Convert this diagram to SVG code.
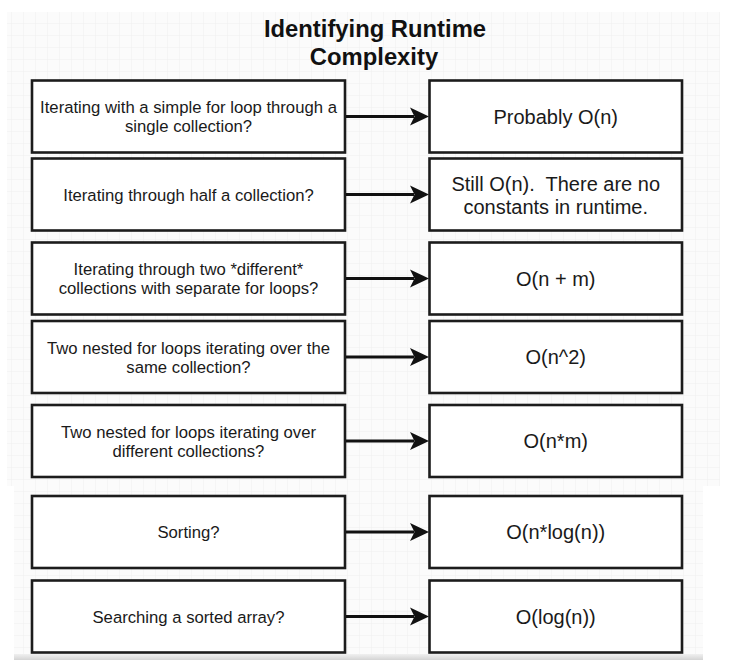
<svg xmlns="http://www.w3.org/2000/svg" width="743" height="663" viewBox="0 0 743 663">
  <style>
    .box { fill: #ffffff; stroke: #1c1c1c; stroke-width: 2.6; }
    .q { font-family: "Liberation Sans", Arial, sans-serif; font-size: 16.7px; fill: #1a1a1a; text-anchor: middle; }
    .a { font-family: "Liberation Sans", Arial, sans-serif; font-size: 20px; fill: #1a1a1a; text-anchor: middle; white-space: pre; }
    .title { font-family: "Liberation Sans", Arial, sans-serif; font-size: 23.8px; font-weight: bold; fill: #111111; text-anchor: middle; }
    .conn line { stroke: #111111; stroke-width: 3; }
    .conn path { fill: #111111; }
  </style>
  <defs>
    <pattern id="grid" width="12" height="12" patternUnits="userSpaceOnUse">
      <rect width="12" height="12" fill="#fbfbfb"/>
      <path d="M12 0 V12 M0 12 H12" fill="none" stroke="#efefef" stroke-width="1"/>
    </pattern>
    <linearGradient id="shade" x1="0" y1="0" x2="0" y2="1">
      <stop offset="0" stop-color="#f0f0f0"/>
      <stop offset="1" stop-color="#d4d4d4"/>
    </linearGradient>
  </defs>

  <rect x="0" y="0" width="743" height="663" fill="#ffffff"/>
  <rect x="7" y="12" width="713" height="474" fill="url(#grid)"/>
  <rect x="14" y="486" width="689" height="168" fill="url(#grid)"/>
  <rect x="14" y="654" width="689" height="6" fill="url(#shade)"/>

  <g id="title">
    <text class="title" x="375" y="37">Identifying Runtime</text>
    <text class="title" x="374" y="65">Complexity</text>
  </g>

  <g id="q1">
    <rect class="box" x="32" y="80.5" width="313" height="72"/>
    <text class="q" x="188.5" y="113">Iterating with a simple for loop through a</text>
    <text class="q" x="188.5" y="132">single collection?</text>
  </g>
  <g id="a1">
    <rect class="box" x="429.5" y="80.5" width="252.5" height="72"/>
    <text class="a" x="555.75" y="123.5">Probably O(n)</text>
  </g>

  <g id="q2">
    <rect class="box" x="32" y="158.5" width="313" height="72"/>
    <text class="q" x="188.5" y="200.5">Iterating through half a collection?</text>
  </g>
  <g id="a2">
    <rect class="box" x="429.5" y="158.5" width="252.5" height="72"/>
    <text class="a" x="555.75" y="190.5" xml:space="preserve">Still O(n).  There are no</text>
    <text class="a" x="555.75" y="213.5">constants in runtime.</text>
  </g>

  <g id="q3">
    <rect class="box" x="32" y="242.5" width="313" height="72"/>
    <text class="q" x="188.5" y="275">Iterating through two *different*</text>
    <text class="q" x="188.5" y="294">collections with separate for loops?</text>
  </g>
  <g id="a3">
    <rect class="box" x="429.5" y="242.5" width="252.5" height="72"/>
    <text class="a" x="555.75" y="285.5">O(n + m)</text>
  </g>

  <g id="q4">
    <rect class="box" x="32" y="321" width="313" height="72"/>
    <text class="q" x="188.5" y="353.5">Two nested for loops iterating over the</text>
    <text class="q" x="188.5" y="372.5">same collection?</text>
  </g>
  <g id="a4">
    <rect class="box" x="429.5" y="321" width="252.5" height="72"/>
    <text class="a" x="555.75" y="364">O(n^2)</text>
  </g>

  <g id="q5">
    <rect class="box" x="32" y="405" width="313" height="72"/>
    <text class="q" x="188.5" y="437.5">Two nested for loops iterating over</text>
    <text class="q" x="188.5" y="456.5">different collections?</text>
  </g>
  <g id="a5">
    <rect class="box" x="429.5" y="405" width="252.5" height="72"/>
    <text class="a" x="555.75" y="448">O(n*m)</text>
  </g>

  <g id="q6">
    <rect class="box" x="32" y="496" width="313" height="72"/>
    <text class="q" x="188.5" y="538">Sorting?</text>
  </g>
  <g id="a6">
    <rect class="box" x="429.5" y="496" width="252.5" height="72"/>
    <text class="a" x="555.75" y="539">O(n*log(n))</text>
  </g>

  <g id="q7">
    <rect class="box" x="32" y="580.5" width="313" height="72"/>
    <text class="q" x="188.5" y="622.5">Searching a sorted array?</text>
  </g>
  <g id="a7">
    <rect class="box" x="429.5" y="580.5" width="252.5" height="72"/>
    <text class="a" x="555.75" y="623.5">O(log(n))</text>
  </g>

  <g id="connectors" class="conn">
    <line x1="346" y1="116.5" x2="414" y2="116.5"/>
    <path d="M429 116.5 L410 107.5 L414.5 116.5 L410 125.5 Z"/>
    <line x1="346" y1="194.5" x2="414" y2="194.5"/>
    <path d="M429 194.5 L410 185.5 L414.5 194.5 L410 203.5 Z"/>
    <line x1="346" y1="278.5" x2="414" y2="278.5"/>
    <path d="M429 278.5 L410 269.5 L414.5 278.5 L410 287.5 Z"/>
    <line x1="346" y1="357" x2="414" y2="357"/>
    <path d="M429 357 L410 348 L414.5 357 L410 366 Z"/>
    <line x1="346" y1="441" x2="414" y2="441"/>
    <path d="M429 441 L410 432 L414.5 441 L410 450 Z"/>
    <line x1="346" y1="532" x2="414" y2="532"/>
    <path d="M429 532 L410 523 L414.5 532 L410 541 Z"/>
    <line x1="346" y1="616.5" x2="414" y2="616.5"/>
    <path d="M429 616.5 L410 607.5 L414.5 616.5 L410 625.5 Z"/>
  </g>
</svg>
